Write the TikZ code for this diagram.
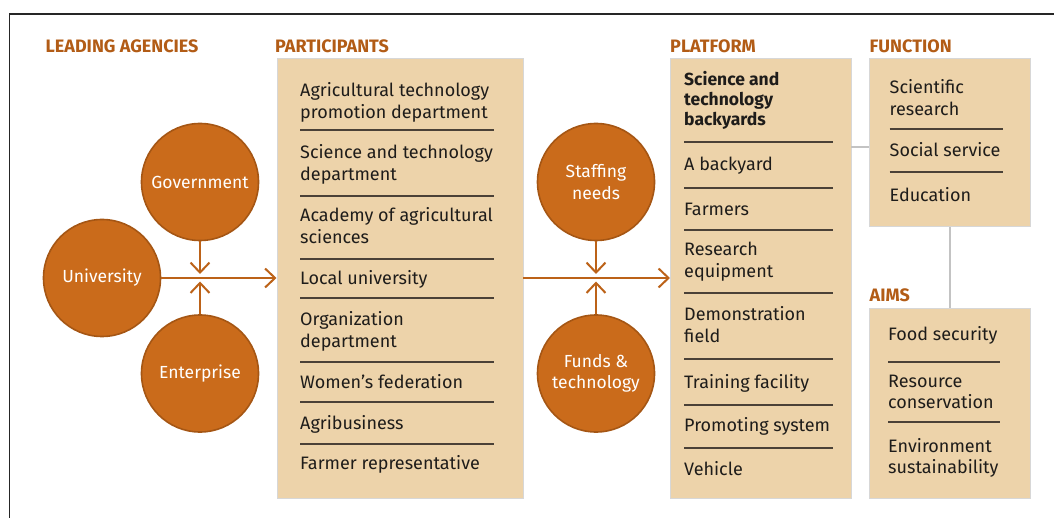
\documentclass[tikz,border=0pt]{standalone}
\usepackage{fontspec}
\setmainfont{Fira Sans}
\newfontfamily\headfont{Fira Sans}
\usetikzlibrary{arrows.meta}
\definecolor{boxfill}{RGB}{237,211,170}
\definecolor{boxline}{RGB}{215,215,215}
\definecolor{circfill}{RGB}{202,107,27}
\definecolor{circline}{RGB}{165,86,20}
\definecolor{headcol}{RGB}{178,92,22}
\definecolor{arrowcol}{RGB}{188,98,24}
\definecolor{greyline}{RGB}{195,195,195}
\definecolor{sepline}{RGB}{75,65,55}
\definecolor{textcol}{RGB}{30,28,26}
\newcommand{\twoline}[2]{\begin{tabular}[t]{@{}l@{}}#1\\#2\end{tabular}}
\tikzset{
  panel/.style={draw=boxline, line width=0.8pt, fill=boxfill, anchor=north west, inner sep=0pt},
  circ/.style={circle, draw=circline, line width=1.6pt, fill=circfill, minimum size=117pt, inner sep=0pt,
    text=white, align=center, font=\fontsize{17.5}{21.5}\selectfont},
  item/.style={anchor=base west, inner sep=0pt, text=textcol, font=\fontsize{18}{21.5}\selectfont},
  heading/.style={anchor=base west, inner sep=0pt, text=headcol, font=\headfont\bfseries\fontsize{18}{20}\selectfont},
  sep/.style={draw=sepline, line width=1.2pt},
  arr/.style={draw=arrowcol, line width=2pt, -{Straight Barb[length=10pt,width=19pt]}},
  link/.style={draw=greyline, line width=2pt},
  frame/.style={draw=black!85, line width=1.3pt}
}
\begin{document}
\begin{tikzpicture}[x=1pt,y=-1pt]
\useasboundingbox (0,0) rectangle (1054,518);
% frame
\draw[frame] (9.5,520) -- (9.5,14) -- (1056,14);
% headings
\node[heading] (hlead) at (45.5,53) {LEADING AGENCIES};
\node[heading] (hpart) at (275,53) {PARTICIPANTS};
\node[heading] (hplat) at (670,53) {PLATFORM};
\node[heading] (hfunc) at (869.5,53) {FUNCTION};
\node[heading] (haims) at (869.5,302) {AIMS};
% panels
\node[panel, minimum width=246pt, minimum height=440pt] (part) at (276.5,58) {};
\node[panel, minimum width=180.5pt, minimum height=440pt] (plat) at (670,58) {};
\node[panel, minimum width=161pt, minimum height=168pt] (func) at (869,58) {};
\node[panel, minimum width=161pt, minimum height=190pt] (aims) at (869,308) {};
% grey links
\coordinate (lk) at (0,147);
\draw[link] (plat.east |- lk) -- (func.west |- lk);
\draw[link] (func.south) -- (aims.north);
% participants
\node[item] (p1) at (300,97) {\twoline{Agricultural technology}{promotion department}};
\draw[sep] (300,130) -- (494,130);
\node[item] (p2) at (300,159) {\twoline{Science and technology}{department}};
\draw[sep] (300,196) -- (494,196);
\node[item] (p3) at (300,222) {\twoline{Academy of agricultural}{sciences}};
\draw[sep] (300,259) -- (494,259);
\node[item] (p4) at (300,285) {Local university};
\draw[sep] (300,298) -- (494,298);
\node[item] (p5) at (300,326) {\twoline{Organization}{department}};
\draw[sep] (300,362) -- (494,362);
\node[item] (p6) at (300,388) {Women’s federation};
\draw[sep] (300,402) -- (494,402);
\node[item] (p7) at (300,429) {Agribusiness};
\draw[sep] (300,444) -- (494,444);
\node[item] (p8) at (300,469) {Farmer representative};
% platform
\node[item, font=\bfseries\fontsize{17.5}{20}\selectfont] (q1) at (684,86) {\begin{tabular}[t]{@{}l@{}}Science and\\technology\\backyards\end{tabular}};
\draw[sep] (684,142) -- (833,142);
\node[item] (q2) at (684,171) {A backyard};
\draw[sep] (684,188) -- (833,188);
\node[item] (q3) at (684,216) {Farmers};
\draw[sep] (684,230) -- (833,230);
\node[item] (q4) at (684,256) {\twoline{Research}{equipment}};
\draw[sep] (684,293) -- (833,293);
\node[item] (q5) at (684,321) {\twoline{Demonstration}{field}};
\draw[sep] (684,359) -- (833,359);
\node[item] (q6) at (684,388) {Training facility};
\draw[sep] (684,405) -- (833,405);
\node[item] (q7) at (684,431) {Promoting system};
\draw[sep] (684,448) -- (833,448);
\node[item] (q8) at (684,475) {Vehicle};
% function
\node[item] (f1) at (889.5,94) {\twoline{Scientific}{research}};
\draw[sep] (889.5,129) -- (1002.5,129);
\node[item] (f2) at (889.5,157) {Social service};
\draw[sep] (889.5,172) -- (1002.5,172);
\node[item] (f3) at (889.5,202) {Education};
% aims
\node[item] (a1) at (888,341) {Food security};
\draw[sep] (888,362) -- (1000,362);
\node[item] (a2) at (888,387) {\twoline{Resource}{conservation}};
\draw[sep] (888,422) -- (1000,422);
\node[item] (a3) at (888,452) {\twoline{Environment}{sustainability}};
% circles
\node[circ] (gov) at (200,182) {Government};
\node[circ] (uni) at (102,278) {University};
\node[circ] (ent) at (200,373.5) {Enterprise};
\node[circ] (staff) at (596,182) {Staffing\\needs};
\node[circ] (fund) at (596,373.5) {Funds \&\\technology};
% arrows
\coordinate (m1) at (gov.south |- uni.east);
\coordinate (m2) at (staff.south |- uni.east);
\draw[arr] (uni.east) -- (uni.east -| part.west);
\draw[arr] (gov.south) -- ([yshift=4pt]m1);
\draw[arr] (ent.north) -- ([yshift=-3.5pt]m1);
\draw[arr] (part.east |- uni.east) -- (plat.west |- uni.east);
\draw[arr] (staff.south) -- ([yshift=4pt]m2);
\draw[arr] (fund.north) -- ([yshift=-3.5pt]m2);
\end{tikzpicture}
\end{document}
